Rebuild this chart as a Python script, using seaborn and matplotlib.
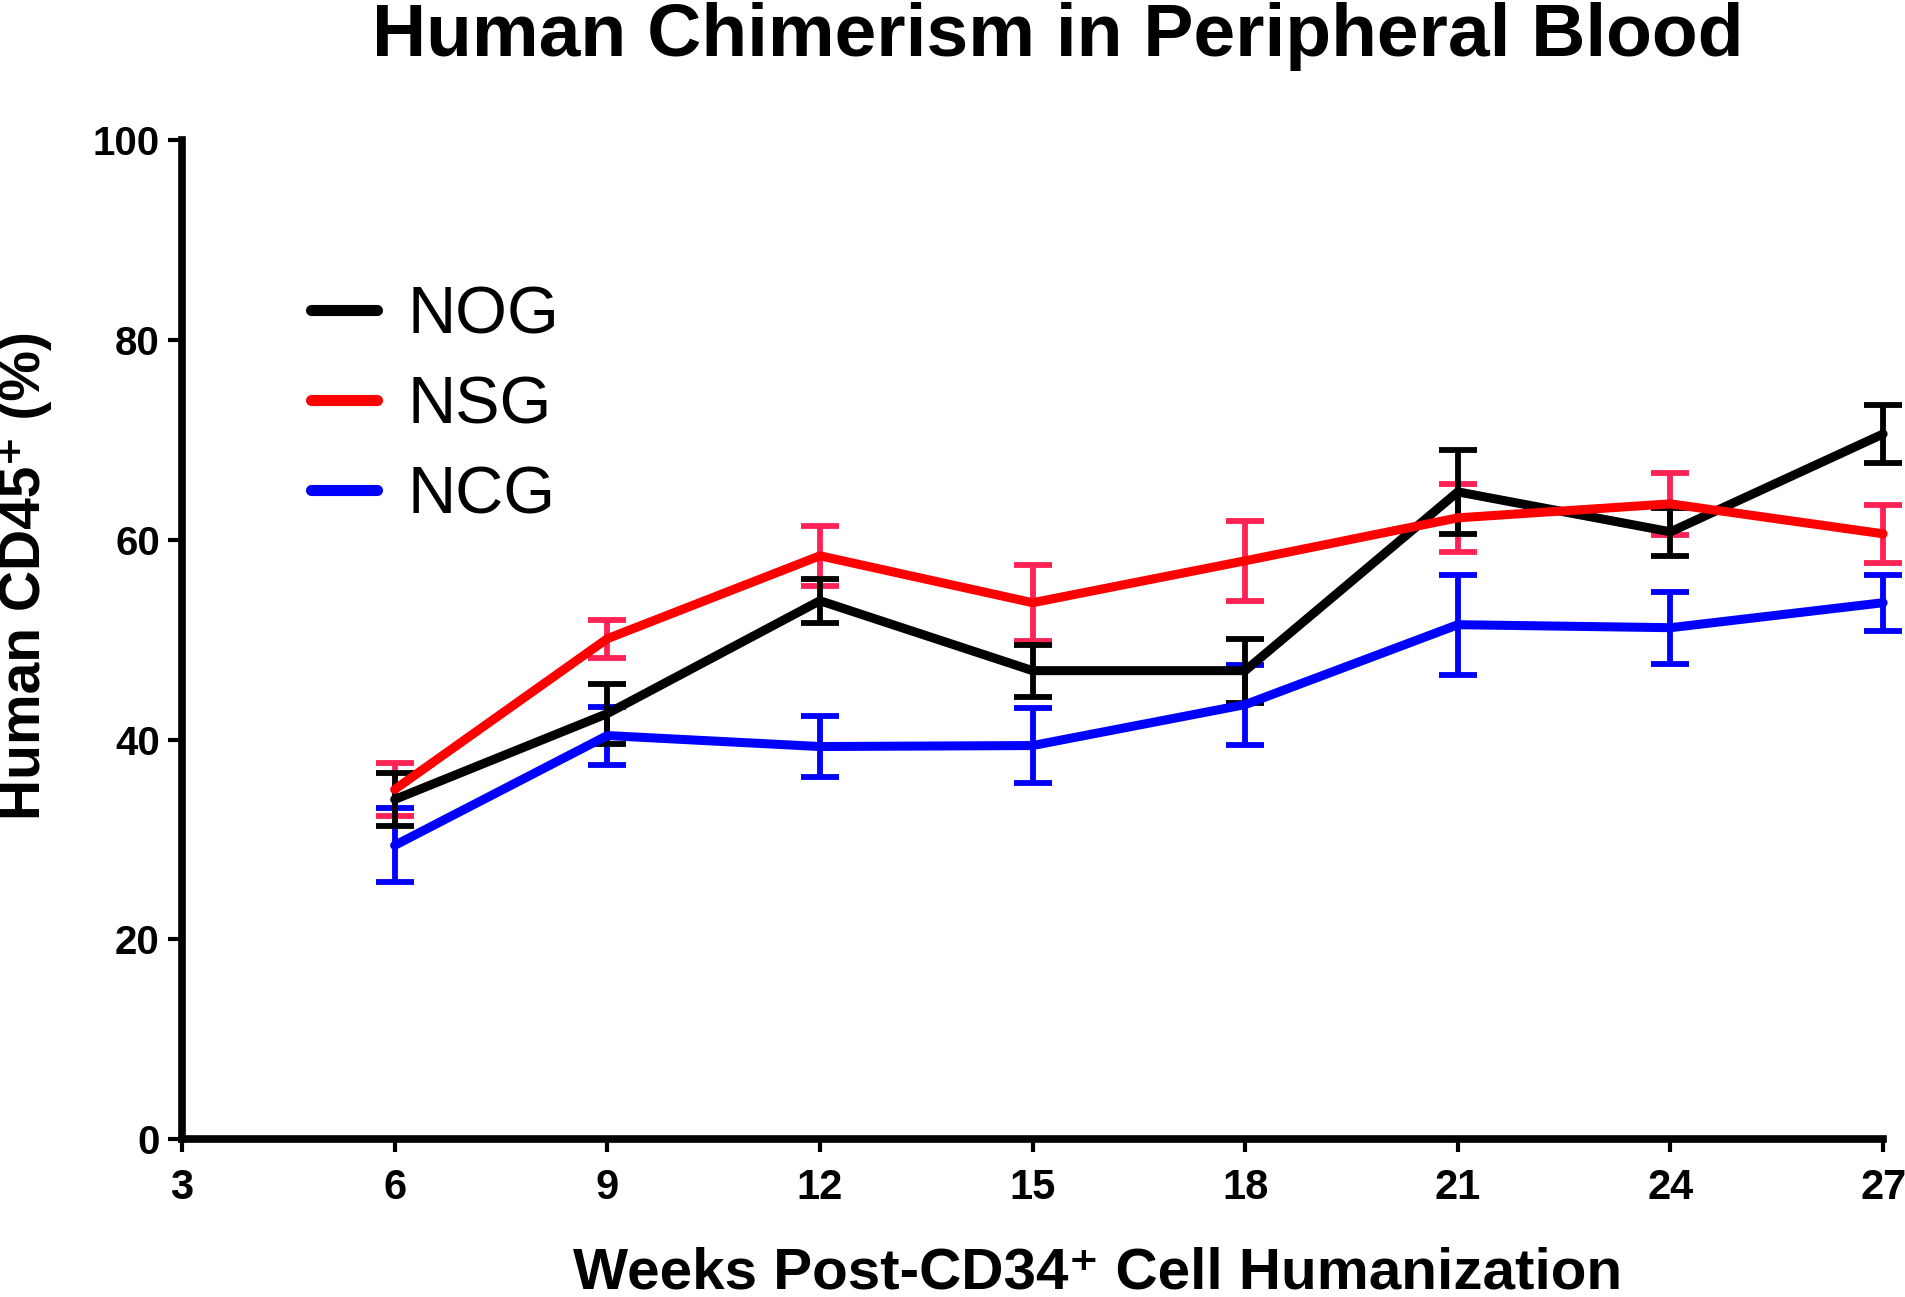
import matplotlib
matplotlib.use("Agg")
import matplotlib.pyplot as plt
import seaborn as sns
import pandas as pd

weeks = [6, 9, 12, 15, 18, 21, 24, 27]
nog = [34.0, 42.6, 53.9, 46.9, 46.9, 64.8, 60.8, 70.6]
nog_err = [2.7, 3.0, 2.2, 2.6, 3.2, 4.2, 2.4, 2.9]
nsg = [35.0, 50.1, 58.4, 53.7, 57.9, 62.2, 63.6, 60.6]
nsg_err = [2.7, 1.9, 3.0, 3.8, 4.0, 3.4, 3.1, 2.9]
ncg = [29.4, 40.4, 39.3, 39.4, 43.5, 51.5, 51.2, 53.7]
ncg_err = [3.7, 2.9, 3.1, 3.8, 4.0, 5.0, 3.6, 2.8]

strains = ["NOG", "NSG", "NCG"]
line_colors = {"NOG": "#000000", "NSG": "#FF0000", "NCG": "#0000FF"}
err_colors = {"NOG": "#000000", "NSG": "#FF2255", "NCG": "#0000FF"}

sns.set_theme(style="ticks")
plt.rcParams['font.family'] = ['Liberation Sans', 'DejaVu Sans']
plt.rcParams['text.color'] = 'black'

df = pd.concat([
    pd.DataFrame({"week": weeks, "pct": nog, "err": nog_err, "strain": "NOG"}),
    pd.DataFrame({"week": weeks, "pct": nsg, "err": nsg_err, "strain": "NSG"}),
    pd.DataFrame({"week": weeks, "pct": ncg, "err": ncg_err, "strain": "NCG"}),
])

fig = plt.figure(figsize=(19.06, 12.97), dpi=100)
ax = fig.add_axes([0.0955, 0.1218, 0.8925, 0.770])

# error bars first, then lines (NOG on top)
for s in ["NCG", "NSG", "NOG"]:
    d = df[df.strain == s]
    eb = ax.errorbar(d.week, d.pct, yerr=d.err, fmt="none", ecolor=err_colors[s],
                     elinewidth=4.2, capsize=14, capthick=4.2, zorder=2)
    for art in eb.lines[1] + eb.lines[2]:
        art.set_clip_on(False)

sns.lineplot(data=df, x="week", y="pct", hue="strain", hue_order=strains,
             palette=line_colors, linewidth=6.5, errorbar=None, ax=ax,
             sort=False, zorder=3)
for ln in ax.get_lines():
    ln.set_clip_on(False)

ax.set_xlim(3, 27)
ax.set_ylim(0, 100)
ax.set_xticks(range(3, 28, 3))
ax.set_yticks(range(0, 101, 20))
sns.despine(ax=ax)
for side in ["left", "bottom"]:
    ax.spines[side].set_linewidth(5.5)
    ax.spines[side].set_color("black")
ax.tick_params(axis="y", length=10, width=3, pad=6, labelsize=29, colors="black")
ax.tick_params(axis="x", length=9, width=3, pad=12, labelsize=30, colors="black")
for lab in ax.get_xticklabels() + ax.get_yticklabels():
    lab.set_fontweight("bold")

ax.set_xlabel("")
ax.set_ylabel("")
fig.text(0.013, 0.556, "Human CD45⁺ (%)", rotation=90, fontsize=41,
         fontweight="bold", ha="center", va="center")
fig.text(0.576, 0.0185, "Weeks Post-CD34⁺ Cell Humanization", fontsize=42,
         fontweight="bold", ha="center", va="center")
fig.text(0.555, 0.972, "Human Chimerism in Peripheral Blood", fontsize=54,
         fontweight="bold", ha="center", va="center")

handles, labels = ax.get_legend_handles_labels()
for h in handles:
    h.set_linewidth(8)
leg = ax.legend(handles, labels, loc="upper left", bbox_to_anchor=(0.163, 0.780),
                bbox_transform=fig.transFigure, frameon=False, fontsize=48,
                handlelength=1.0, handletextpad=0.45, labelspacing=0.42,
                borderaxespad=0, borderpad=0)

fig.savefig("out.png", dpi=100, facecolor="white")
